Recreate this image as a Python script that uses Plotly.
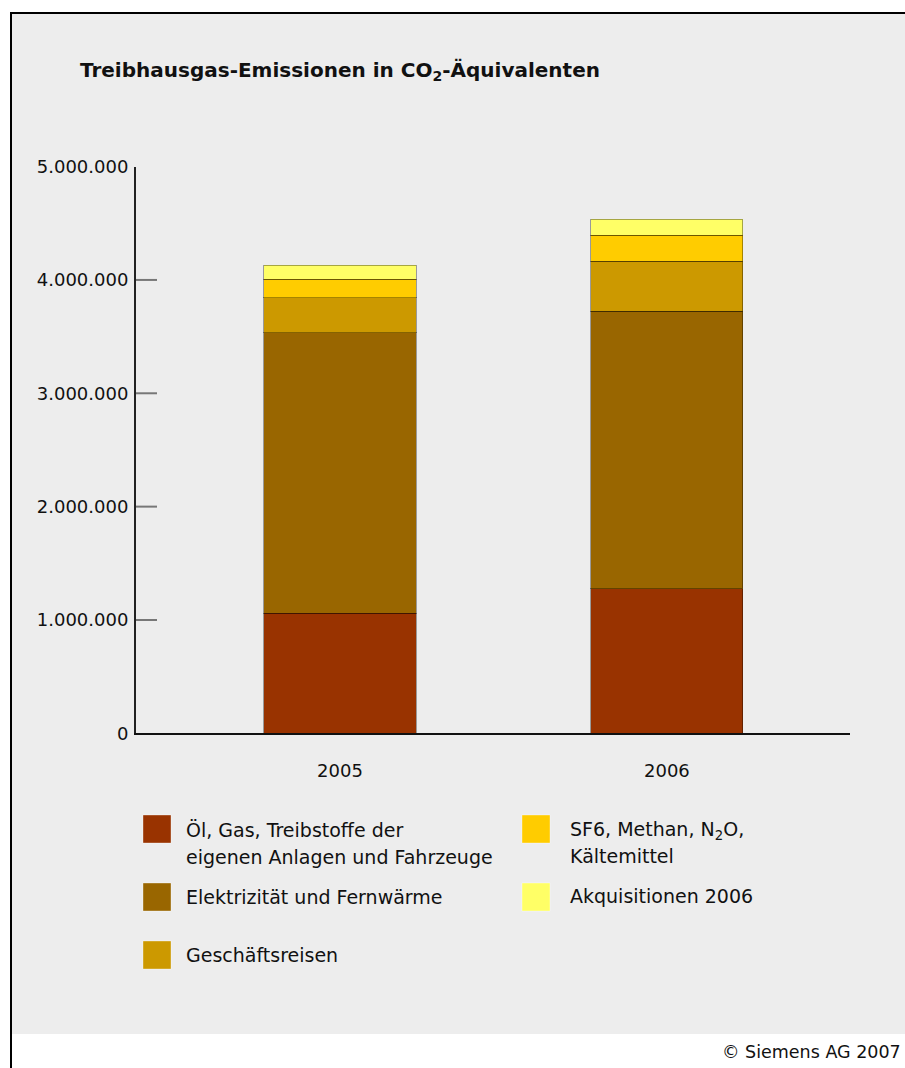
import plotly.graph_objects as go

# Data (t CO2-Äquivalente)
years = ["2005", "2006"]
categories = [
    "Öl, Gas, Treibstoffe der eigenen Anlagen und Fahrzeuge",
    "Elektrizität und Fernwärme",
    "Geschäftsreisen",
    "SF6, Methan, N2O, Kältemittel",
    "Akquisitionen 2006",
]
oel_gas = [1060000, 1275000]
elektrizitaet = [2475000, 2450000]
geschaeftsreisen = [310000, 440000]
sf6_methan = [160000, 230000]
akquisitionen = [125000, 140000]
series = [oel_gas, elektrizitaet, geschaeftsreisen, sf6_methan, akquisitionen]

y_ticks = [0, 1000000, 2000000, 3000000, 4000000, 5000000]

colors = ["#993300", "#996600", "#CC9900", "#FFCC00", "#FFFF66"]

W, H = 905, 1068
FONT = "DejaVu Sans"
TXT = "#111111"


def px(x):
    return x / W


def py(y):
    return 1 - y / H


fig = go.Figure()
for name, vals, col in zip(categories, series, colors):
    fig.add_trace(go.Bar(
        x=years, y=vals, name=name, width=0.465,
        marker=dict(color=col, line=dict(color="rgba(0,0,0,0.35)", width=1)),
        showlegend=False,
    ))

shapes = [
    # panel background and footer strip
    dict(type="rect", xref="paper", yref="paper", x0=px(12), x1=1, y0=py(1034), y1=py(13),
         fillcolor="#EDEDED", line=dict(width=0), layer="below"),
    # frame lines
    dict(type="line", xref="paper", yref="paper", x0=px(11), x1=px(11), y0=0, y1=py(12),
         line=dict(color="black", width=2)),
    dict(type="line", xref="paper", yref="paper", x0=px(10), x1=1, y0=py(13), y1=py(13),
         line=dict(color="black", width=2)),
]

# inner tick marks on the value axis
for v in y_ticks[1:-1]:
    shapes.append(dict(type="line", xref="paper", yref="y", x0=px(136), x1=px(157), y0=v, y1=v,
                       line=dict(color="#777777", width=2)))

annotations = [
    dict(text="<b>Treibhausgas-Emissionen in CO<sub>2</sub>-Äquivalenten</b>",
         xref="paper", yref="paper", x=px(78), y=py(71), xanchor="left", yanchor="middle",
         showarrow=False, font=dict(family=FONT, size=20, color=TXT)),
    dict(text="© Siemens AG 2007", xref="paper", yref="paper", x=px(720), y=py(1052),
         xanchor="left", yanchor="middle", showarrow=False,
         font=dict(family=FONT, size=17.5, color=TXT)),
]

# legend: swatches and labels in two columns
legend_items = [
    (colors[0], 143, 815, 184, ["Öl, Gas, Treibstoffe der", "eigenen Anlagen und Fahrzeuge"], [830, 857]),
    (colors[1], 143, 883, 184, ["Elektrizität und Fernwärme"], [897]),
    (colors[2], 143, 941, 184, ["Geschäftsreisen"], [955]),
    (colors[3], 522, 815, 568, ["SF6, Methan, N<sub>2</sub>O,", "Kältemittel"], [830, 856]),
    (colors[4], 522, 883, 568, ["Akquisitionen 2006"], [896]),
]
for col, x0, y0, tx, lines, ys in legend_items:
    shapes.append(dict(type="rect", xref="paper", yref="paper", x0=px(x0), x1=px(x0 + 28),
                       y0=py(y0 + 28), y1=py(y0), fillcolor=col,
                       line=dict(color="rgba(255,255,255,0.35)", width=1)))
    for t, yy in zip(lines, ys):
        annotations.append(dict(text=t, xref="paper", yref="paper", x=px(tx), y=py(yy),
                                xanchor="left", yanchor="middle", showarrow=False,
                                font=dict(family=FONT, size=19, color=TXT)))

fig.update_layout(
    width=W, height=H,
    margin=dict(l=0, r=0, t=0, b=0, pad=0, autoexpand=False),
    paper_bgcolor="white",
    plot_bgcolor="rgba(0,0,0,0)",
    barmode="stack",
    separators=",.",
    shapes=shapes,
    annotations=annotations,
    xaxis=dict(
        domain=[px(136), px(850)], range=[-0.624, 1.56],
        automargin=False,
        showline=True, linecolor="#111111", linewidth=2,
        showgrid=False, zeroline=False, ticks="",
        ticklabelstandoff=20,
        tickfont=dict(family=FONT, size=18, color=TXT),
    ),
    yaxis=dict(
        domain=[py(733.3), py(166.6)], range=[0, 5000000],
        automargin=False,
        tickvals=y_ticks, tickformat=",d",
        showline=True, linecolor="#222222", linewidth=2,
        showgrid=False, zeroline=False, ticks="",
        ticklabelstandoff=2,
        tickfont=dict(family=FONT, size=18, color=TXT),
    ),
)

fig.write_html("out.html")
